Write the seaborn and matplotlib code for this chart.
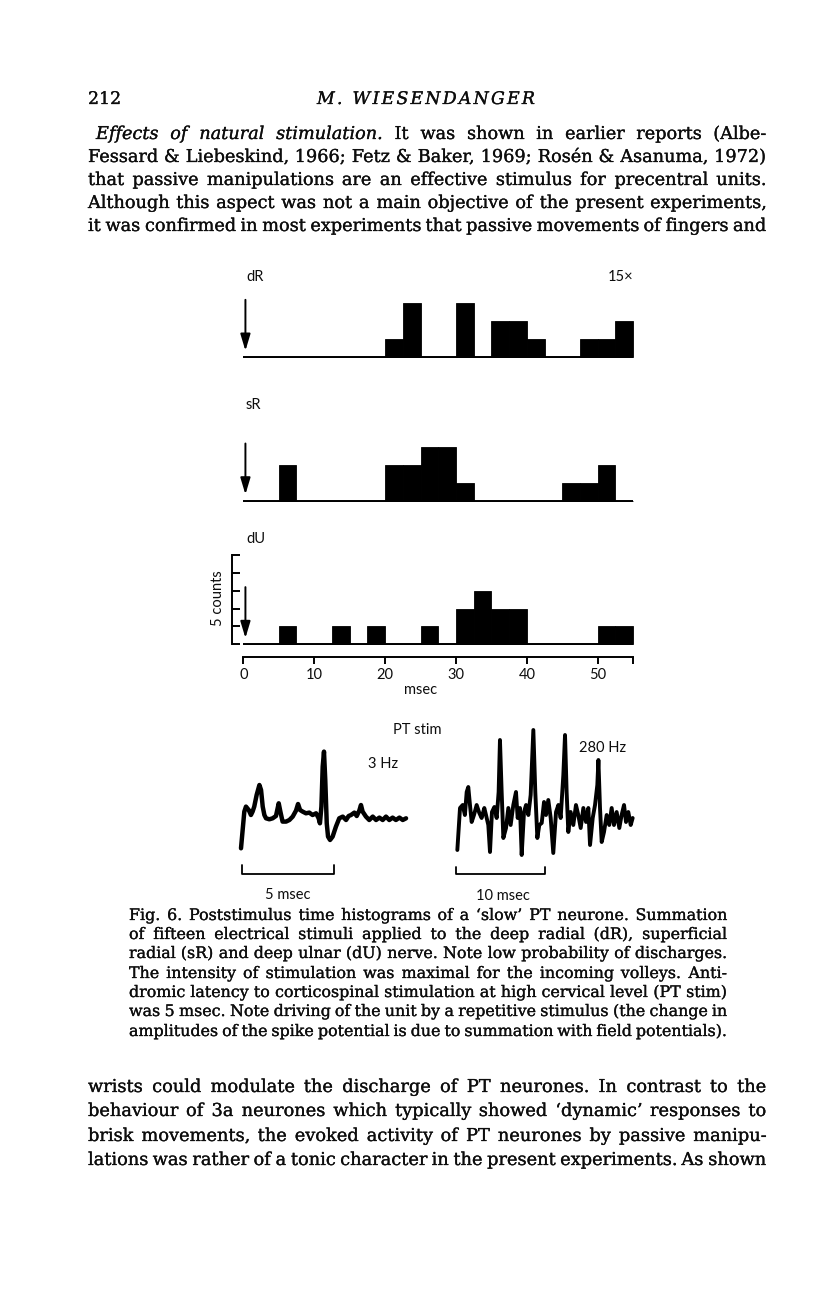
import numpy as np
import pandas as pd
import matplotlib
matplotlib.use("Agg")
import matplotlib.pyplot as plt
import matplotlib.patheffects as pe
import seaborn as sns

W, H = 816, 1300

# ---------------- data ----------------
bin_edges = [0, 2.5, 5, 7.5, 10, 12.5, 15, 17.5, 20, 22.5, 25, 27.5, 30, 32.5, 35, 37.5,
             40, 42.5, 45, 47.5, 50, 52.5, 55]          # 2.5 msec bins
dR_counts = [0, 0, 0, 0, 0, 0, 0, 0, 1, 3, 0, 0, 3, 0, 2, 2, 1, 0, 0, 1, 1, 2]
sR_counts = [0, 0, 2, 0, 0, 0, 0, 0, 2, 2, 3, 3, 1, 0, 0, 0, 0, 0, 1, 1, 2, 0]
dU_counts = [0, 0, 1, 0, 0, 1, 0, 1, 0, 0, 1, 0, 2, 3, 2, 2, 0, 0, 0, 0, 1, 1]
x_ticks = [0, 10, 20, 30, 40, 50, 55]
x_tick_labels = ["0", "10", "20", "30", "40", "50", ""]
count_ticks = [0, 1, 2, 3, 4, 5]

# 3 Hz sweep (msec, amplitude)
t3 = [0.00, 0.18, 0.27, 0.42, 0.54, 0.63, 0.72, 0.85, 1.00, 1.09, 1.18, 1.27, 1.36, 1.54,
      1.72, 1.90, 2.05, 2.14, 2.26, 2.45, 2.63, 2.81, 2.99, 3.10, 3.21, 3.35, 3.53, 3.71,
      3.89, 4.08, 4.22, 4.29, 4.37, 4.44, 4.51, 4.58, 4.66, 4.73, 4.84, 4.98, 5.16, 5.34,
      5.53, 5.71, 5.85, 5.98, 6.16, 6.29, 6.43, 6.52, 6.61, 6.79, 6.97, 7.16, 7.34, 7.52,
      7.70, 7.88, 8.06, 8.24, 8.42, 8.61, 8.79, 8.97]
a3 = [-30, 6.7, 11.7, 8.3, 3.3, 6.7, 11.7, 23.3, 33.3, 28.3, 11.7, 3.3, 0, -1,
      0, 2.3, 15, 6.7, -3.3, -3.3, -1.7, 1.7, 7.7, 14.3, 8.3, 6.7, 5, 5.7,
      3.3, 5, 0, -5, 11.7, 51.7, 66.7, 38.3, -5, -18.3, -21.7, -18.3, -8.3, 0,
      1.7, -1.7, 2.3, 3.3, 5.7, 2.3, 7.7, 13.3, 6.7, 1.7, -1.7, 1.7, -1.7, 0.7,
      -1.7, 1.7, -1.7, 0.7, -1.7, 0.7, -1.7, 0]

# 280 Hz sweep (msec, amplitude)
t280 = [0.15, 0.45, 0.75, 1.00, 1.20, 1.38, 1.57, 1.76, 2.02, 2.32, 2.62, 2.88, 3.18, 3.37,
        3.63, 3.82, 4.04, 4.31, 4.57, 4.79, 4.94, 5.13, 5.32, 5.62, 5.88, 6.14, 6.44, 6.74,
        6.93, 7.19, 7.38, 7.64, 7.87, 8.13, 8.39, 8.69, 8.91, 9.14, 9.36, 9.63, 9.89, 10.11,
        10.37, 10.64, 10.93, 11.24, 11.50, 11.76, 12.06, 12.25, 12.43, 12.62, 12.88, 13.18,
        13.48, 13.74, 14.01, 14.31, 14.61, 14.87, 15.06, 15.36, 15.62, 15.88, 16.00, 16.18,
        16.37, 16.63, 16.93, 17.22, 17.49, 17.75, 18.05, 18.35, 18.61, 18.88, 19.10, 19.36,
        19.63, 19.85]
a280 = [-33, 9, 12, 2, 25, 30, 12, -5, 2, 12, 4, -1, 9, 2,
        -8, -35, 5, 10, -1, 25, 77, 25, -21, -11, 9, -8, 12, 25,
        -1, 9, -38, 5, 12, 2, 22, 87, 25, -21, -8, -6, 15, 2,
        17, -1, -36, 5, 12, -1, 42, 82, 25, -15, 5, -8,
        12, 2, -11, 9, -5, 9, -28, -1, 12, 32, 57, 9,
        -25, -15, 2, -8, 9, -8, 5, -11, 2, 12, -5, 5,
        -8, -1]
scale_left_ms = 5
scale_right_ms = 10

header_left = "212"
header_center = "M. WIESENDANGER"
para1 = [
    "_Effects _of _natural _stimulation. It was shown in earlier reports (Albe-",
    "Fessard & Liebeskind, 1966; Fetz & Baker, 1969; Rosén & Asanuma, 1972)",
    "that passive manipulations are an effective stimulus for precentral units.",
    "Although this aspect was not a main objective of the present experiments,",
    "it was confirmed in most experiments that passive movements of fingers and",
]
caption = [
    "Fig. 6. Poststimulus time histograms of a \u2018slow\u2019 PT neurone. Summation",
    "of fifteen electrical stimuli applied to the deep radial (dR), superficial",
    "radial (sR) and deep ulnar (dU) nerve. Note low probability of discharges.",
    "The intensity of stimulation was maximal for the incoming volleys. Anti-",
    "dromic latency to corticospinal stimulation at high cervical level (PT stim)",
    "was 5 msec. Note driving of the unit by a repetitive stimulus (the change in",
    "amplitudes of the spike potential is due to summation with field potentials).",
]
para2 = [
    "wrists could modulate the discharge of PT neurones. In contrast to the",
    "behaviour of 3a neurones which typically showed \u2018dynamic\u2019 responses to",
    "brisk movements, the evoked activity of PT neurones by passive manipu-",
    "lations was rather of a tonic character in the present experiments. As shown",
]

# ---------------- figure ----------------
sns.set_style("white")
plt.rcParams["font.family"] = ["Lato", "DejaVu Sans"]
fig = plt.figure(figsize=(W / 100, H / 100), dpi=100)
fig.patch.set_facecolor("white")
renderer = fig.canvas.get_renderer()
SERIF = ["DejaVu Serif"]
SANS = ["Lato", "DejaVu Sans"]
INK = "#0d0d0d"
BOLDEN = [pe.withStroke(linewidth=0.2, foreground=INK)]


def add_ax(l, t, r, b):
    ax = fig.add_axes([l / W, 1 - b / H, (r - l) / W, (b - t) / H])
    ax.set_facecolor("none")
    return ax


def ftext(x, y, s, **kw):
    kw.setdefault("color", INK)
    return fig.text(x / W, 1 - y / H, s, **kw)


def measure(s, **kw):
    t = fig.text(0, 0, s, **kw)
    w = t.get_window_extent(renderer).width
    t.remove()
    return w


def tokens_of(line):
    out = []
    for w in line.split(" "):
        if w.startswith("_"):
            out.append((w[1:], "italic"))
        else:
            out.append((w, "normal"))
    return out


def draw_paragraph(lines, x0, x1, baselines, size, indent=0, min_space=0.24):
    ref = 10.0
    best = size
    for i, line in enumerate(lines):
        toks = tokens_of(line)
        wsum = sum(measure(w, fontsize=ref, family=SERIF, style=st) for w, st in toks)
        avail = x1 - x0 - (indent if i == 0 else 0)
        gaps = len(toks) - 1
        s = avail / (wsum / ref + gaps * min_space * 100 / 72)
        best = min(best, s)
    for i, line in enumerate(lines):
        toks = tokens_of(line)
        widths = [measure(w, fontsize=best, family=SERIF, style=st) for w, st in toks]
        start = x0 + (indent if i == 0 else 0)
        gaps = len(toks) - 1
        sp = (x1 - start - sum(widths)) / gaps if gaps > 0 else 0
        x = start
        for (w, st), wd in zip(toks, widths):
            ftext(x, baselines[i], w, fontsize=best, family=SERIF, style=st,
                  ha="left", va="baseline", path_effects=BOLDEN)
            x += wd + sp


def draw_tracked(s, x0, x1, y, size, **kw):
    chars = list(s)
    widths = [measure(c if c != " " else "n", fontsize=size, **kw) * (0.5 if c == " " else 1)
              for c in chars]
    extra = (x1 - x0 - sum(widths)) / (len(chars) - 1)
    x = x0
    for c, wd in zip(chars, widths):
        if c != " ":
            ftext(x, y, c, fontsize=size, ha="left", va="baseline", path_effects=BOLDEN, **kw)
        x += wd + extra


# header
ftext(88, 104, header_left, fontsize=12.5, family=SERIF, ha="left", va="baseline",
      path_effects=BOLDEN)
draw_tracked(header_center, 317, 535, 104, 12.5, family=SERIF, style="italic")

# body paragraphs
draw_paragraph(para1, 88, 766, [139, 162, 185, 208, 231], 13.5, indent=8)
draw_paragraph(caption, 129, 727, [920, 939, 958, 978, 997, 1016, 1036], 11.5)
draw_paragraph(para2, 88, 766, [1092, 1116, 1141, 1165], 13.5)

# ---------------- histograms ----------------
X0, PX_MS, PX_CT = 243.3, 7.088, 17.87
XLIM = (-3.0, 56.0)
panels = [("dR", dR_counts, 357.0, -0.5, 4.0),
          ("sR", sR_counts, 500.7, -0.5, 4.0),
          ("dU", dU_counts, 644.3, -0.69, 5.3)]
axes = {}
for name, counts, base, ylo, yhi in panels:
    ax = add_ax(X0 + PX_MS * XLIM[0], base - PX_CT * yhi, X0 + PX_MS * XLIM[1], base - PX_CT * ylo)
    centers = [(a + b) / 2 for a, b in zip(bin_edges[:-1], bin_edges[1:])]
    df = pd.DataFrame({"t": centers, "n": counts})
    sns.histplot(data=df, x="t", weights="n", bins=bin_edges, ax=ax, color="black",
                 alpha=1.0, edgecolor="black", linewidth=0.6, stat="count")
    ax.hlines(0, bin_edges[0], bin_edges[-1], color="black", lw=1.4, zorder=3)
    ax.annotate("", xy=(0.3, 0.35), xytext=(0.3, 3.2),
                arrowprops=dict(arrowstyle="-|>,head_length=1.0,head_width=0.3",
                                lw=1.4, color="black", shrinkA=0, shrinkB=0,
                                mutation_scale=10))
    ax.set_xlim(*XLIM)
    ax.set_ylim(ylo, yhi)
    ax.set_xlabel("")
    ax.set_ylabel("")
    for sp in ax.spines.values():
        sp.set_visible(False)
    ax.set_xticks([])
    ax.set_yticks([])
    axes[name] = ax

ftext(246, 281, "dR", fontsize=10.5, family=SANS, ha="left", va="baseline")
ftext(633, 281, "15\u00d7", fontsize=10.5, family=SANS, ha="right", va="baseline")
ftext(246, 409, "sR", fontsize=10.5, family=SANS, ha="left", va="baseline")
ftext(246, 543, "dU", fontsize=10.5, family=SANS, ha="left", va="baseline")

axU = axes["dU"]
axU.spines["left"].set_visible(True)
axU.spines["left"].set_position(("data", -1.55))
axU.spines["left"].set_bounds(0, 5)
axU.spines["left"].set_linewidth(1.4)
axU.spines["left"].set_color("black")
axU.set_yticks(count_ticks)
axU.tick_params(axis="y", direction="in", length=5.8, width=1.4, labelleft=False, left=True,
                color="black")
axU.spines["bottom"].set_visible(True)
axU.spines["bottom"].set_bounds(0, 55)
axU.spines["bottom"].set_linewidth(1.4)
axU.spines["bottom"].set_color("black")
axU.set_xticks(x_ticks)
axU.set_xticklabels(x_tick_labels, fontsize=10.5, family=SANS, color=INK)
axU.tick_params(axis="x", direction="out", length=5.2, width=1.4, pad=3, bottom=True,
                color="black")
axU.text(-3.5, 2.6, "5 counts", rotation=90, ha="center", va="center", fontsize=10.5,
         family=SANS, color=INK)
ftext(421, 694, "msec", fontsize=10.5, family=SANS, ha="center", va="baseline")

# ---------------- traces ----------------
LX0, LPX = 241.0, 18.4
LB = 818.3
axL = add_ax(LX0 - 0.6 * LPX, LB - 80, LX0 + 9.6 * LPX, LB + 62)
sns.lineplot(x=t3, y=a3, ax=axL, color="black", lw=3.2, sort=False, estimator=None)
axL.plot([0.05, 0.05, 0.05 + scale_left_ms, 0.05 + scale_left_ms], [-47, -55.7, -55.7, -47],
         color="black", lw=1.3)
axL.set_xlim(-0.6, 9.6)
axL.set_ylim(-62, 80)

RX0, RPX = 456.0, 8.9
RB = 817.0
axR = add_ax(RX0 - 1.0 * RPX, RB - 90, RX0 + 21 * RPX, RB + 62)
sns.lineplot(x=t280, y=a280, ax=axR, color="black", lw=2.8, sort=False, estimator=None)
axR.plot([0, 0, scale_right_ms, scale_right_ms], [-50, -57, -57, -50], color="black", lw=1.3)
axR.set_xlim(-1, 21)
axR.set_ylim(-62, 90)

for ax in (axL, axR):
    ax.set_axis_off()

ftext(393, 734, "PT stim", fontsize=10.5, family=SANS, ha="left", va="baseline")
ftext(368, 768, "3 Hz", fontsize=10.5, family=SANS, ha="left", va="baseline")
ftext(579, 752, "280 Hz", fontsize=10.5, family=SANS, ha="left", va="baseline")
ftext(288, 899, "5 msec", fontsize=10.5, family=SANS, ha="center", va="baseline")
ftext(503, 900, "10 msec", fontsize=10.5, family=SANS, ha="center", va="baseline")

fig.savefig("out.png", dpi=100, facecolor="white")
